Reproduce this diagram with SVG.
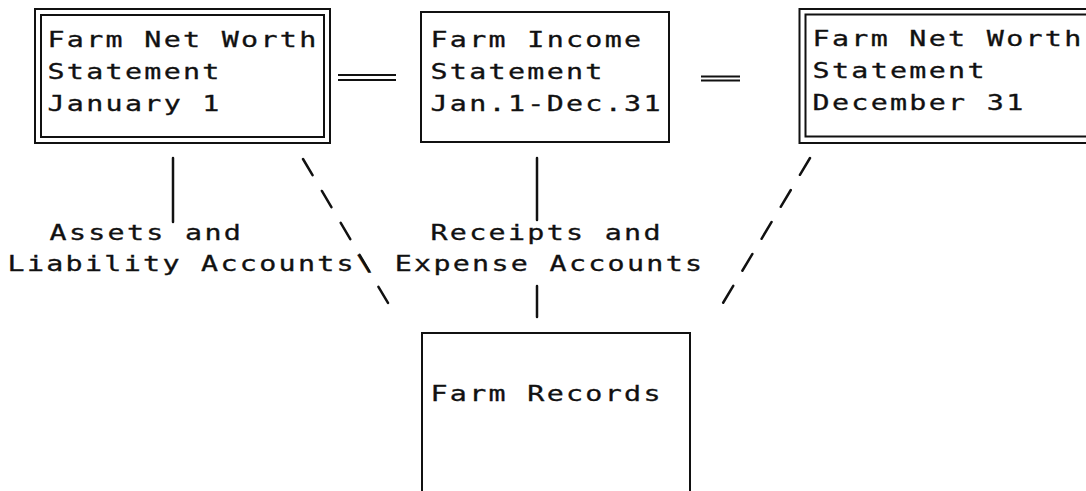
<svg xmlns="http://www.w3.org/2000/svg" width="1086" height="491" viewBox="0 0 1086 491">
  <style>
    .frame { fill: none; stroke: #111; stroke-width: 2; }
    .link { fill: none; stroke: #111; stroke-width: 2.5; stroke-linecap: round; }
    .eq { fill: none; stroke: #111; stroke-width: 2; }
    /* typewriter lettering: mono face widened horizontally, 19.35px pitch */
    .t { font-family: "DejaVu Sans Mono", "Liberation Mono", monospace; font-size: 21px; letter-spacing: 1.7px; fill: #111; stroke: #111; stroke-width: 0.3; }
  </style>
  <rect width="1086" height="491" fill="#fff"/>

  <!-- connectors -->
  <g id="connectors">
    <!-- equals signs between the statements -->
    <line class="eq" x1="338" y1="75" x2="396" y2="75"/>
    <line class="eq" x1="338" y1="80" x2="396" y2="80"/>
    <line class="eq" x1="701" y1="76.5" x2="740" y2="76.5"/>
    <line class="eq" x1="701" y1="80.5" x2="740" y2="80.5"/>
    <!-- assets and liability accounts -->
    <line class="link" x1="173" y1="158" x2="173" y2="222"/>
    <!-- dashed diagonal from the January statement down to the records -->
    <line class="link" x1="303" y1="159" x2="388" y2="303" stroke-dasharray="18.8 18.3"/>
    <!-- receipts and expense accounts -->
    <line class="link" x1="537" y1="158" x2="537" y2="220"/>
    <line class="link" x1="537" y1="286" x2="537" y2="317"/>
    <!-- dashed diagonal from the December statement down to the records -->
    <line class="link" x1="810" y1="158" x2="723" y2="303" stroke-dasharray="19.6 17.7"/>
  </g>

  <!-- opening net worth statement -->
  <g id="networth-jan">
    <rect class="frame" x="35" y="9" width="295" height="134"/>
    <rect class="frame" x="41" y="15" width="283" height="122"/>
    <g transform="scale(1.35 1)">
      <text class="t" x="35.2" y="47">Farm Net Worth</text>
      <text class="t" x="35.2" y="79">Statement</text>
      <text class="t" x="35.2" y="111">January 1</text>
    </g>
  </g>

  <!-- income statement -->
  <g id="income">
    <rect class="frame" x="421" y="12" width="248" height="130"/>
    <g transform="scale(1.35 1)">
      <text class="t" x="318.9" y="47">Farm Income</text>
      <text class="t" x="318.9" y="79">Statement</text>
      <text class="t" x="318.9" y="111">Jan.1-Dec.31</text>
    </g>
  </g>

  <!-- closing net worth statement -->
  <g id="networth-dec">
    <rect class="frame" x="799.5" y="9" width="320" height="134"/>
    <rect class="frame" x="805.5" y="14.5" width="310" height="122"/>
    <g transform="scale(1.35 1)">
      <text class="t" x="601.9" y="46">Farm Net Worth</text>
      <text class="t" x="601.9" y="78">Statement</text>
      <text class="t" x="601.9" y="110">December 31</text>
    </g>
  </g>

  <!-- account labels -->
  <g id="labels" transform="scale(1.35 1)">
    <text class="t" x="36.7" y="240">Assets and</text>
    <text class="t" x="318.9" y="240">Receipts and</text>
    <text class="t" x="5.6" y="271">Liability Accounts\ Expense Accounts</text>
  </g>

  <!-- farm records -->
  <g id="records">
    <path class="frame" d="M422,500 V333 H690 V500"/>
    <g transform="scale(1.35 1)">
      <text class="t" x="318.9" y="401">Farm Records</text>
    </g>
  </g>
</svg>
